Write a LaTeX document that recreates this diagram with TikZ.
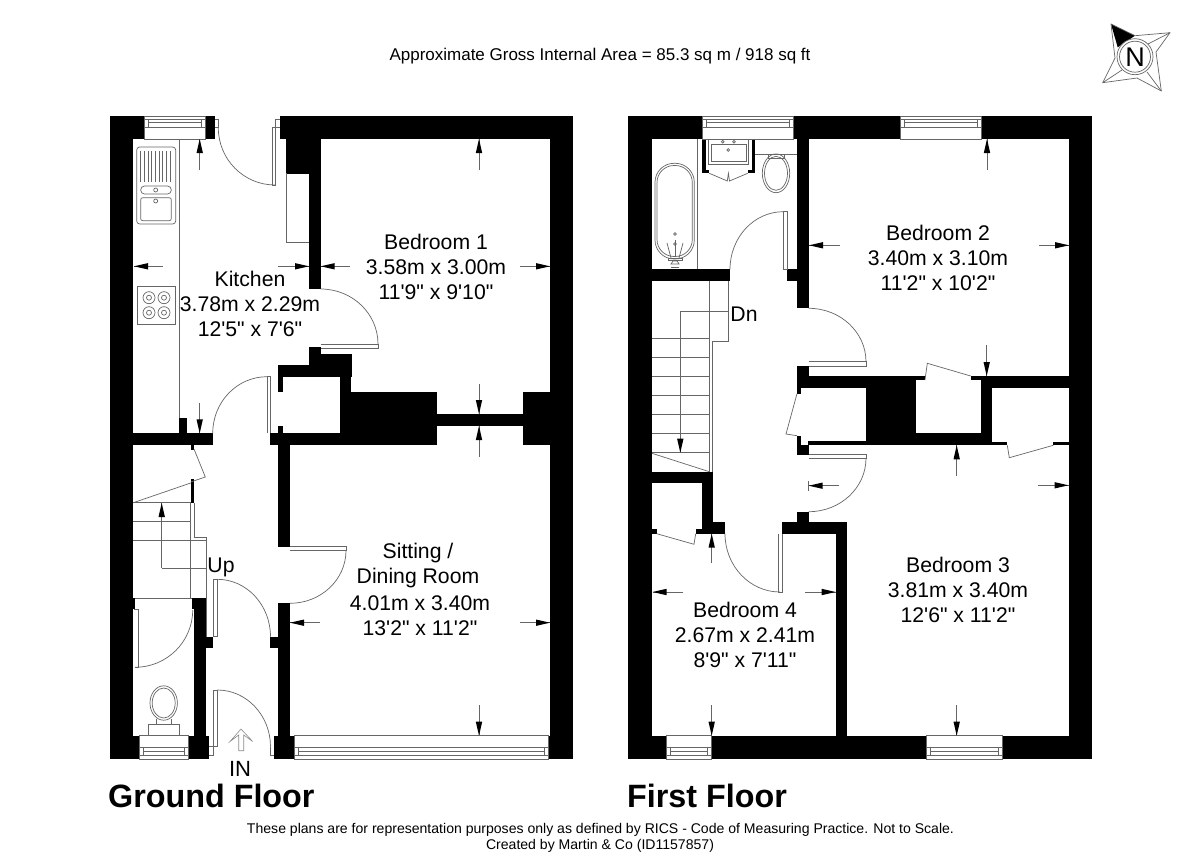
\documentclass[tikz,border=0pt]{standalone}
\usepackage{fontspec}
\usetikzlibrary{calc}
\newfontfamily\lib{Liberation Sans}
\tikzset{
  wl/.style={draw=black!55,line width=0.6pt},
  thin line/.style={draw=black!60,line width=0.7pt},
  roomlabel/.style={font=\lib\fontsize{21.2}{25}\selectfont,inner sep=0pt,anchor=center},
  floorlabel/.style={font=\lib\bfseries\fontsize{32.3}{38}\selectfont,inner sep=0pt,anchor=west},
  smalllabel/.style={font=\lib\fontsize{14.06}{18}\selectfont,inner sep=0pt,anchor=center},
}
\newcommand{\wall}[4]{\fill[black] (#1,#2) rectangle (#3,#4);}
\newcommand{\pln}[1]{\draw[thin line] #1;}
\newcommand{\doorarc}[6]{\draw[thin line] (#1,#2) .. controls ($(#1,#2)!.5523!(#3,#4)$) and ($(#5,#6)!.5523!(#3,#4)$) .. (#5,#6);}
% dimension arrow: tail -> tip
\newcommand{\dimv}[3]{\draw[thin line] (#1,#2) -- (#1,#3);
  \pgfmathsetmacro{\hb}{#3+(#3>#2?-14:14)}
  \fill[black] (#1,#3) -- (#1-3.2,\hb) -- (#1+3.2,\hb) -- cycle;}
\newcommand{\dimh}[3]{\draw[thin line] (#1,#3) -- (#2,#3);
  \pgfmathsetmacro{\hb}{#2+(#2>#1?-14:14)}
  \fill[black] (#2,#3) -- (\hb,#3-3.2) -- (\hb,#3+3.2) -- cycle;}
% windows
\newcommand{\wintop}[2]{\fill[white] (#1,116) rectangle (#2,139);
  \draw[thin line] (#1,116) rectangle (#2,139);
  \draw[thin line] (#1,119.3) -- (#2,119.3);
  \draw[thin line] (#1,127.7) -- (#2,127.7);
  \draw[thin line] (#1+4,119.3) rectangle (#2-4,127.7);
  \draw[thin line] (#1+4,122.7) -- (#2-4,122.7);}
\newcommand{\winbot}[2]{\fill[white] (#1,735.7) rectangle (#2,759);
  \draw[thin line] (#1,735.7) rectangle (#2,759);
  \draw[thin line] (#1,747.7) -- (#2,747.7);
  \draw[thin line] (#1,755) -- (#2,755);
  \draw[thin line] (#1+4,747.7) rectangle (#2-4,755);
  \draw[thin line] (#1+4,751) -- (#2-4,751);}
\begin{document}
\begin{tikzpicture}[x=1pt,y=-1pt]
\useasboundingbox (0,0) rectangle (1200,867);
\fill[white] (0,0) rectangle (1200,867);

%%% ===== GROUND FLOOR walls =====
\wall{110}{116}{133.3}{759}
\wall{110}{116}{144}{139}
\wall{205}{116}{215}{139}
\wall{280}{116}{573}{139}
\wall{550}{116}{573}{759}
\wall{286}{139}{320.7}{173.5}
\wall{309}{173}{320.7}{289}
\wall{309}{347}{320.7}{354}
\wall{309}{354}{352}{365}
\wall{278}{365}{352}{377}
\wall{278}{377}{282.5}{392}
\wall{340}{377}{351}{392}
\wall{340}{391.7}{437}{445.3}
\wall{270}{433.3}{437}{445.3}
\wall{278}{425.7}{282.5}{433.3}
\wall{278.3}{445}{290}{546.7}
\wall{437}{414}{523}{426}
\wall{523}{391.7}{573}{445.3}
\wall{110}{433.3}{212.7}{445.3}
\wall{179}{418}{186.7}{433.3}
\wall{190.7}{445}{194.3}{449.5}
\wall{190.7}{479}{194.3}{502.7}
\wall{110}{598.3}{135}{609}
\wall{192}{598.3}{206}{609}
\wall{194.3}{609}{206}{736}
\wall{206}{636.7}{213.3}{648.3}
\wall{270.3}{636.7}{290}{648.3}
\wall{278.3}{603.3}{290}{736}
\wall{110}{735.7}{139}{759}
\wall{188}{735.7}{209.3}{759}
\wall{274.3}{735.7}{294}{759}
\wall{548}{735.7}{573}{759}

\wintop{144}{205}
\winbot{139}{188}
\winbot{294}{548}

% kitchen fittings
\pln{(179,139) -- (179,418)}
\draw[thin line,rounded corners=3pt] (136.7,147) rectangle (175.7,224);
\foreach \xr in {140.5,144.2,147.9,151.6,155.3,159,162.7,166.4,170.1}{\draw[thin line] (\xr,151) -- (\xr,182);}
\draw[thin line,rounded corners=3.8pt] (140.7,186) rectangle (171.3,194);
\draw[thin line] (155.7,190) circle[radius=2];
\draw[thin line,rounded corners=2pt] (140.7,197.7) rectangle (171.3,220.7);
\draw[thin line] (155.7,201) circle[radius=2];
\draw[thin line] (137.7,286) rectangle (175.7,324.3);
\foreach \cx/\cy in {149/297.7,164/297.7,149/312.7,164/312.7}{
  \draw[thin line] (\cx,\cy) circle[radius=6];
  \draw[thin line] (\cx,\cy) circle[radius=2.5];}
\pln{(286,173) -- (286,242) -- (309,242)}

% doors ground
\pln{(215,119.3) -- (218.3,119.3) -- (218.3,127.7) -- (215,127.7)}
\doorarc{218.3}{127.7}{218.3}{185}{275}{185}
\pln{(280,127.7) -- (272.3,127.7) -- (272.3,185) -- (275.7,185) -- (275.7,119.3) -- (280,119.3)}
\doorarc{378}{344}{378}{289}{320.7}{289}
\pln{(320.7,344) -- (378,344) -- (378,348.3) -- (320.7,348.3)}
\pln{(267,433.3) -- (267,376.7) -- (270.3,376.7) -- (270.3,433.3)}
\doorarc{267}{376.7}{212.7}{376.7}{212.7}{433.3}
\pln{(290,546.7) -- (346,546.7) -- (346,550.5) -- (290,550.5)}
\doorarc{346}{550.5}{346}{603.3}{290}{603.3}
\pln{(217.3,579.3) -- (213.3,579.3) -- (213.3,636.7)}
\pln{(217.3,579.3) -- (217.3,636.7) -- (213.3,636.7)}
\doorarc{217.3}{579.3}{270.5}{579.3}{270.5}{636.7}
\pln{(217.3,690) -- (213.3,690) -- (213.3,746.7) -- (209.3,746.7)}
\pln{(217.3,690) -- (217.3,746.7) -- (213.3,746.7)}
\pln{(209.3,755) -- (213.3,755) -- (213.3,746.7)}
\doorarc{217.3}{690}{270.5}{690}{270.5}{746.7}
\pln{(270.5,746.7) -- (270.5,755) -- (274.3,755)}
\pln{(133.7,609) -- (138.7,609) -- (138.7,667.3) -- (134.5,667.3)}
\doorarc{135}{667.3}{192.7}{667.3}{192.7}{610}
\pln{(194,449) -- (205.3,477) -- (190.7,482)}

% stairs ground
\pln{(133.3,502.7) -- (190.7,483)}
\pln{(133.3,502.7) -- (190.7,502.7)}
\pln{(133.3,521.7) -- (190.7,521.7)}
\pln{(133.3,540.7) -- (206,540.7)}
\pln{(135,598.3) -- (192,598.3)}
\pln{(190.7,502.7) -- (190.7,598.3)}
\pln{(194.3,503) -- (194.3,537) -- (206,537) -- (206,636.7)}
\pln{(206,568) -- (161.7,568)}
\dimv{161.7}{568}{503}

% WC ground
\draw[thin line] (163.7,703) ellipse[x radius=13.7,y radius=17.2];
\draw[thin line] (163.7,703) ellipse[x radius=11.5,y radius=15];
\pln{(156,719) -- (156,724.3) -- (171.7,724.3) -- (171.7,719)}
\draw[thin line] (148.3,724.3) rectangle (179.3,735.7);

% entrance arrow
\draw[draw=black!45,line width=0.6pt] (238.7,750.7) -- (238.7,735) -- (230,741.5) -- (241,729) -- (252.7,741.5) -- (243.7,735) -- (243.7,750.7) -- cycle;

%%% ===== FIRST FLOOR walls =====
\wall{628.3}{116}{652}{759}
\wall{628.3}{116}{702}{139}
\wall{793}{116}{1092}{139}
\wall{1069}{116}{1092}{759}
\wall{797}{139}{808.7}{308.3}
\wall{652}{269.3}{730}{280.7}
\wall{787.3}{269.3}{808.7}{280.7}
\wall{701.7}{139}{706}{173.3}
\wall{701.7}{170}{709.3}{173.3}
\wall{751.7}{139}{755.3}{173.3}
\wall{747.7}{170}{755.3}{173.3}
\wall{652}{471.7}{712.7}{483.3}
\wall{701.7}{483}{713.3}{530}
\wall{701.7}{521.7}{725}{533.7}
\wall{695.7}{529}{725}{533.7}
\wall{652}{529}{657.3}{533.7}
\wall{797}{365.7}{808.7}{388.3}
\wall{797}{388}{801}{393.7}
\wall{797}{435.7}{801}{445}
\wall{797}{445}{808.7}{455}
\wall{808}{376}{916}{388.3}
\wall{916}{376}{925}{380}
\wall{970.7}{376}{981}{380}
\wall{980.7}{376}{992.3}{445.3}
\wall{992}{376}{1069}{388.3}
\wall{865.7}{388}{916}{445.3}
\wall{808}{441}{992}{445.3}
\wall{916}{433.3}{992}{445.3}
\wall{992}{441.7}{1007.3}{445.3}
\wall{1053.3}{441.7}{1069}{445.3}
\wall{797}{511.7}{808.7}{522}
\wall{781.7}{521.7}{846.7}{533.7}
\wall{835.7}{521.7}{846.7}{736}
\wall{628.3}{735.7}{666.7}{759}
\wall{711.7}{735.7}{926}{759}
\wall{1002}{735.7}{1092}{759}

\wintop{702}{793}
\wintop{900}{981}
\winbot{666.7}{711.7}
\winbot{926}{1002}

% bathroom
\pln{(697.7,139) -- (697.7,269.3)}
\draw[thin line,rounded corners=19pt] (655,163.3) rectangle (694.3,259);
\draw[thin line,rounded corners=17pt] (657,165.5) rectangle (692.3,256.5);
\draw[thin line] (675,234) circle[radius=1.3];
\draw[thin line] (675,244) circle[radius=1.3];
\pln{(675,240) -- (675,256)}
\pln{(667,243) -- (671,258)}
\pln{(683,243) -- (679,258)}
\draw[thin line] (668,258) rectangle (682,260.5);
\draw[thin line] (671,264) -- (679,264) -- (677,261) -- (673,261) -- cycle;
\pln{(671,267) -- (679,267)}
% basin
\draw[thin line] (708.3,139) rectangle (748.3,164.3);
\draw[thin line] (711.7,144.3) rectangle (746,161.7);
\draw[thin line] (722.7,141.7) circle[radius=1.4];
\draw[thin line] (734,141.7) circle[radius=1.4];
\draw[thin line] (728.3,150) circle[radius=1.4];
\pln{(709.3,173.3) -- (727.3,181) -- (728.4,173.3) -- (729.5,181) -- (747.7,173.3)}
% WC first
\pln{(755.3,154.3) -- (797,154.3)}
\draw[thin line] (776,173.3) ellipse[x radius=13.7,y radius=19.4];
\draw[thin line] (776,173.3) ellipse[x radius=11.5,y radius=17];
\pln{(768.3,154.3) -- (768.3,158) -- (784,158) -- (784,154.3)}
% bath door
\pln{(783.3,269.3) -- (783.3,211.7) -- (787.3,211.7) -- (787.3,269.3) -- (783.3,269.3)}
\doorarc{783.3}{211.7}{730}{211.7}{730}{269.3}
% bed2 door
\pln{(808.7,361.7) -- (866,361.7) -- (866,366) -- (808.7,366)}
\doorarc{808.7}{308.3}{866}{308.3}{866}{361.7}
% cupboard doors
\pln{(797,393.7) -- (786,434) -- (797,435.7)}
\pln{(925,380) -- (927.3,363.3) -- (970.7,376)}
\pln{(1007.3,445.3) -- (1009.3,457.7) -- (1053.3,445.3)}
\pln{(656.7,533.7) -- (694,544.3) -- (695.7,533.7)}
% hall door bottom
\pln{(808.7,454.3) -- (866,454.3) -- (866,458.3) -- (808.7,458.3)}
\doorarc{866}{458.3}{866}{511.7}{808.7}{511.7}
% bed4 door
\pln{(778.3,533.7) -- (778.3,592) -- (782.3,592) -- (782.3,533.7)}
\doorarc{725}{533.7}{725}{592}{780}{592}
% stairs first
\pln{(709.3,280.7) -- (709.3,471.7)}
\pln{(728.7,280.7) -- (728.7,341.7) -- (712.7,341.7) -- (712.7,471.7)}
\foreach \yt in {338.3,357.3,376.3,395.3,414.3,433.7,452.7}{\draw[thin line] (652,\yt) -- (709.3,\yt);}
\pln{(652,453.3) -- (709.3,471.7)}
\pln{(728.7,311.3) -- (680.3,311.3)}
\dimv{680.3}{311.3}{452.7}

%%% ===== dimension arrows =====
\dimv{199.7}{170}{139}
\dimh{163}{134}{266.3}
\dimh{278}{309}{266.3}
\dimh{350}{320.7}{266.3}
\dimh{520}{550}{266.3}
\dimv{479}{170}{139}
\dimv{479}{384}{414}
\dimv{479}{456.7}{426}
\dimv{199.7}{402.7}{433.3}
\dimh{320}{290}{622.7}
\dimh{520}{550}{622.7}
\dimv{479}{705}{735.7}
\dimh{839}{808.7}{485.7}
\pln{(808.7,481) -- (808.7,490.5)}
\dimh{840}{809}{245.3}
\dimh{1039}{1069}{245.3}
\dimv{987}{170}{139}
\dimv{986.7}{345.3}{376}
\dimv{956.7}{475.7}{445.3}
\dimh{1038.3}{1068.5}{485.3}
\dimv{956.7}{705}{735.7}
\dimv{711.7}{705}{735.7}
\dimv{711.7}{563}{533.7}
\dimh{683}{652.5}{592}
\dimh{805}{835.7}{592}

%%% ===== labels =====
\node[smalllabel,font=\lib\fontsize{17}{20}\selectfont] (title) at (600,56) {Approximate Gross Internal Area = 85.3 sq m / 918 sq ft};

\node[roomlabel] (kit1) at (250,279) {Kitchen};
\node[roomlabel] (kit2) at (250,304) {3.78m x 2.29m};
\node[roomlabel] (kit3) at (250,329) {12'5" x 7'6"};
\node[roomlabel] (b1a) at (436,242) {Bedroom 1};
\node[roomlabel] (b1b) at (436,267) {3.58m x 3.00m};
\node[roomlabel] (b1c) at (436,292) {11'9" x 9'10"};
\node[roomlabel] (s1) at (418,553) {Sitting /};
\node[roomlabel] (s2) at (418,578) {Dining Room};
\node[roomlabel] (s3) at (420,603) {4.01m x 3.40m};
\node[roomlabel] (s4) at (420,628) {13'2" x 11'2"};
\node[roomlabel] (b2a) at (938,233) {Bedroom 2};
\node[roomlabel] (b2b) at (938,258) {3.40m x 3.10m};
\node[roomlabel] (b2c) at (938,283) {11'2" x 10'2"};
\node[roomlabel] (b3a) at (958,565) {Bedroom 3};
\node[roomlabel] (b3b) at (958,590) {3.81m x 3.40m};
\node[roomlabel] (b3c) at (958,615) {12'6" x 11'2"};
\node[roomlabel] (b4a) at (745,610) {Bedroom 4};
\node[roomlabel] (b4b) at (745,635) {2.67m x 2.41m};
\node[roomlabel] (b4c) at (745,660) {8'9" x 7'11"};
\node[roomlabel] (up) at (221,567) {Up};
\node[roomlabel] (dn) at (744,314) {Dn};
\node[roomlabel,font=\lib\fontsize{22}{26}\selectfont] (in) at (240,769) {IN};
\node[floorlabel] (gf) at (108,796) {Ground Floor};
\node[floorlabel] (ff) at (627,796) {First Floor};
\node[smalllabel] (foot1) at (600.5,830) {These plans are for representation purposes only as defined by RICS - Code of Measuring Practice. Not to Scale.};
\node[smalllabel] (foot2) at (600,846) {Created by Martin \& Co (ID1157857)};

%%% ===== compass =====
\fill[black] (1111,24) -- (1135,35.7) -- (1117.7,47.3) -- cycle;
\draw[thin line,line join=round] (1111,24) -- (1135,35.7) -- (1170,32.7) -- (1156,52) -- (1161.3,91) -- (1137,78) -- (1102.7,82.7) -- (1115,58) -- cycle;
\draw[thin line] (1170,32.7) -- (1148,44);
\draw[thin line] (1161.3,91) -- (1147,72);
\draw[thin line] (1102.7,82.7) -- (1122,70);
\fill[white] (1135,56.7) circle[radius=18];
\draw[thin line] (1135,56.7) circle[radius=18];
\draw[thin line] (1135,56.7) circle[radius=15.5];
\node[inner sep=0pt,font=\lib\fontsize{27}{31}\selectfont] (north) at (1135,57) {N};
\end{tikzpicture}
\end{document}
